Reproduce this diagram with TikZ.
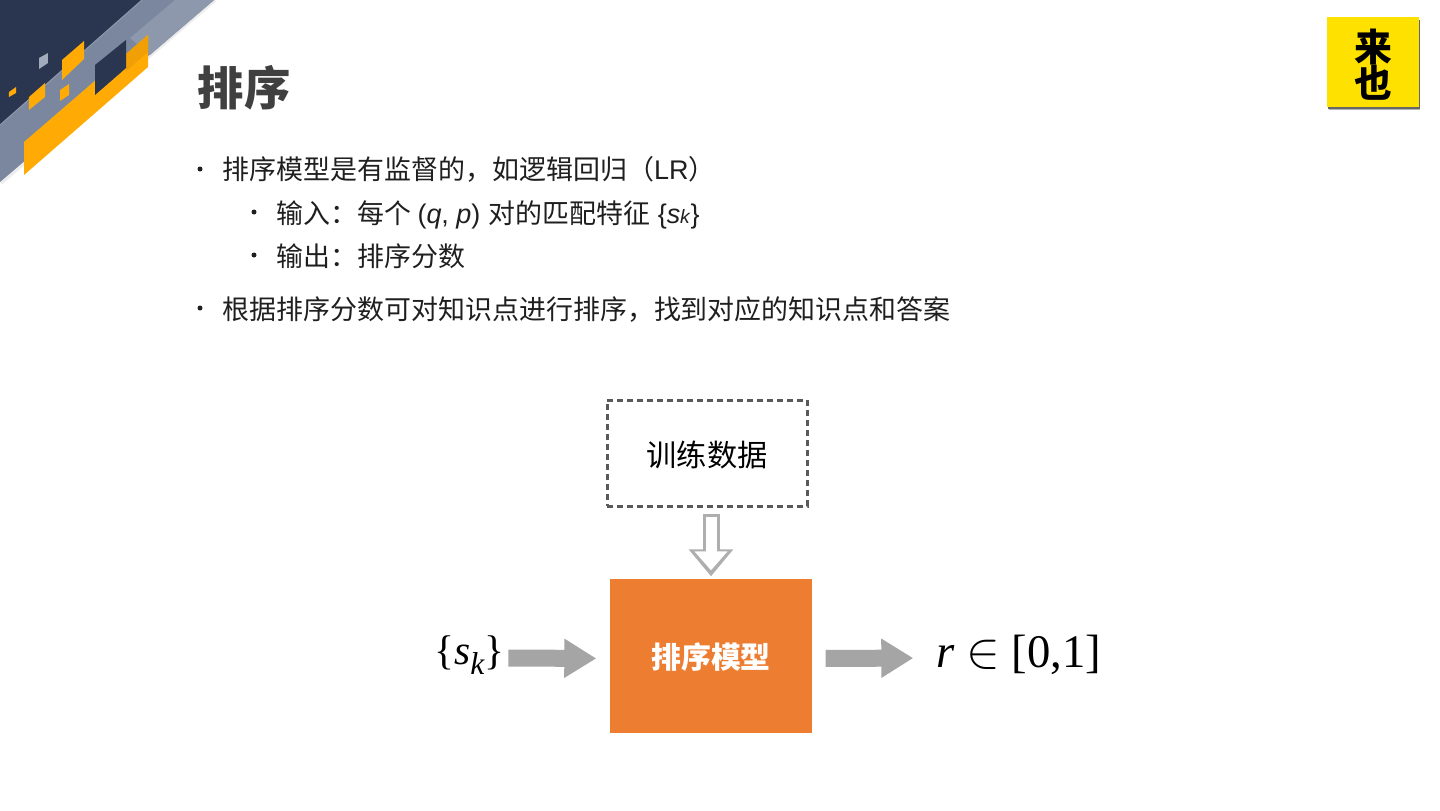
\documentclass[tikz,border=0pt]{standalone}
\usepackage{fontspec}
\setmainfont{Noto Sans CJK SC}
\newfontfamily\latinfont{Liberation Sans}
\newfontfamily\mathfont{Liberation Serif}
\usetikzlibrary{arrows.meta}
\definecolor{navy}{HTML}{2A3650}
\definecolor{band}{HTML}{7A879F}
\definecolor{amber}{HTML}{FFAA05}
\definecolor{amberdark}{HTML}{F09F05}
\definecolor{logoyellow}{HTML}{FFE100}
\definecolor{modelorange}{HTML}{ED7D31}
\definecolor{arrowgray}{HTML}{A5A5A5}
\tikzset{
  bodytext/.style={anchor=base west,inner sep=0pt,font=\fontsize{7.67pt}{9pt}\selectfont,text=black!88},
  blockarrow/.style={line width=0.17cm,arrowgray,-{Triangle[length=0.32cm,width=0.37cm]}},
  bignum/.style={inner sep=0pt,font=\fontsize{13.3pt}{15pt}\mathfont}
}
\begin{document}
\begin{tikzpicture}
\useasboundingbox (0,0) rectangle (14.4,8.1);
\fill [white] (0,0) rectangle (14.4,8.1);
% corner decoration
\draw [black!7,line width=1pt] (2.15,8.1)--(0.01,6.27);
\fill [band] (0,8.1)--(2.14,8.1)--(0,6.28)--cycle;
\fill [band!86!white] (1.75,8.1)--(2.14,8.1)--(1.5,7.55)--(1.3,7.72)--cycle;
\fill [navy] (0,8.1)--(1.42,8.1)--(0,6.85)--cycle;
\draw [band!85!white,line width=0.3pt] (1.42,8.1)--(0,6.85);
\fill [amber] (0.24,6.68)--(1.48,7.75)--(1.48,7.43)--(0.24,6.35)--cycle;
\fill [amberdark] (1.26,7.56)--(1.48,7.75)--(1.48,7.58)--(1.26,7.39)--cycle;
\fill [navy] (0.95,7.45)--(1.26,7.70)--(1.26,7.42)--(0.95,7.15)--cycle;
\fill [amber] (0.62,7.50)--(0.84,7.69)--(0.84,7.51)--(0.62,7.30)--cycle;
\fill [amber] (0.29,7.13)--(0.45,7.27)--(0.45,7.13)--(0.29,7.00)--cycle;
\fill [amber] (0.60,7.20)--(0.69,7.26)--(0.69,7.15)--(0.60,7.09)--cycle;
\fill [amber] (0.09,7.18)--(0.16,7.23)--(0.16,7.17)--(0.09,7.13)--cycle;
\fill [band!70!white] (0.39,7.52)--(0.48,7.57)--(0.48,7.47)--(0.39,7.41)--cycle;
% logo
\fill [black!30] (13.29,7.0) rectangle (14.2,7.9);
\fill [black!60] (13.28,7.015) rectangle (14.195,7.9);
\fill [logoyellow] (13.27,7.03) rectangle (14.19,7.93);
\node (lai) at (13.73,7.63) [inner sep=0pt,font=\fontsize{10.8pt}{12pt}\selectfont\bfseries] {来};
\node (ye) at (13.73,7.27) [inner sep=0pt,font=\fontsize{10.8pt}{12pt}\selectfont\bfseries] {也};
% title and text
\node (title) at (1.97,7.05) [anchor=base west,inner sep=0pt,text=black!75,font=\fontsize{13.2pt}{15pt}\selectfont\bfseries] {排序};
\fill [black!88] (2.0,6.41) circle (0.025);
\fill [black!88] (2.54,5.98) circle (0.025);
\fill [black!88] (2.54,5.55) circle (0.025);
\fill [black!88] (2.0,5.02) circle (0.025);
\node (l1) at (2.22,6.31) [bodytext] {排序模型是有监督的，如逻辑回归（{\latinfont LR}）};
\node (l2) at (2.76,5.87) [bodytext] {输入：每个 {\latinfont (\textit{q}, \textit{p})}\hspace{0.02cm} 对的匹配特征\hspace{0.015cm} {\latinfont\{\textit{s}{\fontsize{5.5pt}{6pt}\selectfont\textit{k}}\}}};
\node (l3) at (2.76,5.44) [bodytext] {输出：排序分数};
\node (l4) at (2.22,4.91) [bodytext] {根据排序分数可对知识点进行排序，找到对应的知识点和答案};
% diagram
\node (train) at (7.07,3.57) [draw=black!65,line width=0.03cm,dash pattern=on 0.06cm off 0.04cm,minimum width=2cm,minimum height=1.06cm,font=\fontsize{8.6pt}{10pt}\selectfont] {\raisebox{-0.134cm}[0.2cm][0.2cm]{训练数据}};
\node (model) at (7.11,1.54) [fill=modelorange,text=white,minimum width=2.02cm,minimum height=1.54cm,font=\fontsize{8.5pt}{10pt}\selectfont\bfseries] {\raisebox{-0.124cm}[0.2cm][0.2cm]{排序模型}};
\node (sk) at (4.695,1.55) [bignum,font=\fontsize{11.8pt}{14pt}\mathfont] {\{\textit{s}{\raisebox{-0.5ex}{\fontsize{9pt}{10pt}\selectfont\textit{k}}}\}};
\node (r) at (10.185,1.55) [bignum] {\textit{r} {\fontsize{15.5pt}{16pt}\selectfont$\in$} [0,1]};
\draw [blockarrow,shorten <=0.03cm,shorten >=0.13cm] ([yshift=-0.03cm]sk.east)--([yshift=-0.025cm]model.west);
\draw [blockarrow,shorten <=0.13cm,shorten >=0.22cm] ([yshift=-0.025cm]model.east)--([yshift=-0.03cm]r.west);
\draw [arrowgray!90!white,line width=0.17cm,shorten <=0.06cm,shorten >=0.02cm,-{Triangle[length=0.27cm,width=0.43cm]}] (model.north |- train.south)--(model.north);
\draw [white,line width=0.11cm,shorten <=0.09cm,shorten >=0.08cm,-{Triangle[length=0.19cm,width=0.32cm]}] (model.north |- train.south)--(model.north);
\end{tikzpicture}
\end{document}
